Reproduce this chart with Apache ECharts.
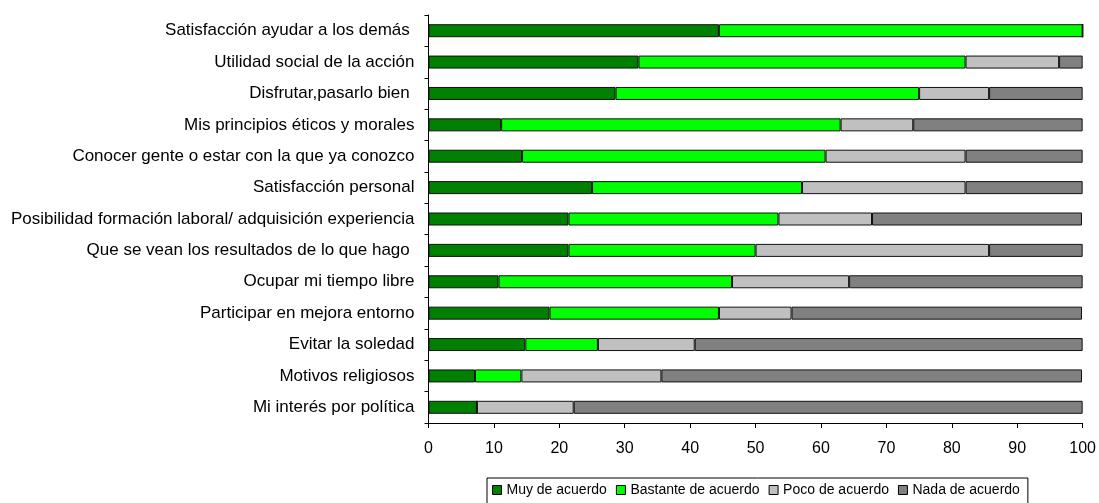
<!DOCTYPE html>
<html>
<head>
<meta charset="utf-8">
<script src="https://cdn.jsdelivr.net/npm/echarts@6/dist/echarts.min.js"></script>
<style>
html,body{margin:0;padding:0;background:#fff;}
#chart{width:1099px;height:503px;}
</style>
</head>
<body>
<div id="chart"></div>
<script>
var categories = [
  "Satisfacción ayudar a los demás ",
  "Utilidad social de la acción",
  "Disfrutar,pasarlo bien ",
  "Mis principios éticos y morales",
  "Conocer gente o estar con la que ya conozco",
  "Satisfacción personal",
  "Posibilidad formación laboral/ adquisición experiencia",
  "Que se vean los resultados de lo que hago ",
  "Ocupar mi tiempo libre",
  "Participar en mejora entorno",
  "Evitar la soledad",
  "Motivos religiosos",
  "Mi interés por política"
];
var seriesNames = ["Muy de acuerdo", "Bastante de acuerdo", "Poco de acuerdo", "Nada de acuerdo"];
var muyDeAcuerdo      = [44.4, 32.1, 28.6, 11.1, 14.3, 25.0, 21.4, 21.4, 10.7, 18.5, 14.8, 7.1, 7.4];
var bastanteDeAcuerdo = [55.6, 50.0, 46.4, 51.9, 46.4, 32.1, 32.1, 28.6, 35.7, 25.9, 11.1, 7.1, 0];
var pocoDeAcuerdo     = [0, 14.3, 10.7, 11.1, 21.4, 25.0, 14.3, 35.7, 17.9, 11.1, 14.8, 21.4, 14.8];
var nadaDeAcuerdo     = [0, 3.6, 14.3, 25.9, 17.9, 17.9, 32.1, 14.3, 35.7, 44.4, 59.3, 64.3, 77.8];
var colors = ["#008000", "#00ff00", "#c0c0c0", "#808080"];

var dataSets = [muyDeAcuerdo, bastanteDeAcuerdo, pocoDeAcuerdo, nadaDeAcuerdo];
var font = "Arial, 'Liberation Sans', sans-serif";

var chart = echarts.init(document.getElementById('chart'), null, {renderer: 'canvas'});
chart.setOption({
  animation: false,
  backgroundColor: '#fff',
  textStyle: {fontFamily: font},
  grid: {left: 428.5, right: 14, top: 15, bottom: 80, containLabel: false},
  xAxis: {
    type: 'value', min: 0, max: 100, interval: 10,
    axisLine: {show: true, lineStyle: {color: '#000', width: 1}},
    axisTick: {show: true, length: 5, lineStyle: {color: '#000'}},
    splitLine: {show: false},
    axisLabel: {color: '#000', fontSize: 16, fontFamily: font, margin: 18}
  },
  yAxis: {
    type: 'category', inverse: true, data: categories,
    axisLine: {show: true, lineStyle: {color: '#000', width: 1}},
    axisTick: {show: true, length: 4, alignWithLabel: false, lineStyle: {color: '#000'}},
    axisLabel: {color: '#000', fontSize: 17, fontFamily: font, margin: 14}
  },
  legend: {
    left: 487, top: 478,
    data: seriesNames,
    icon: 'rect', itemWidth: 9, itemHeight: 9, itemGap: 9,
    borderColor: '#000', borderWidth: 1,
    padding: [5, 8, 8, 5],
    textStyle: {color: '#000', fontSize: 14, fontFamily: font},
    itemStyle: {borderColor: '#000', borderWidth: 1}
  },
  series: seriesNames.map(function (name, i) {
    return {
      name: name, type: 'bar', stack: 'total', barWidth: 13,
      data: dataSets[i],
      itemStyle: {color: colors[i], borderColor: '#111', borderWidth: 1},
      emphasis: {disabled: true}
    };
  })
});
</script>
</body>
</html>
